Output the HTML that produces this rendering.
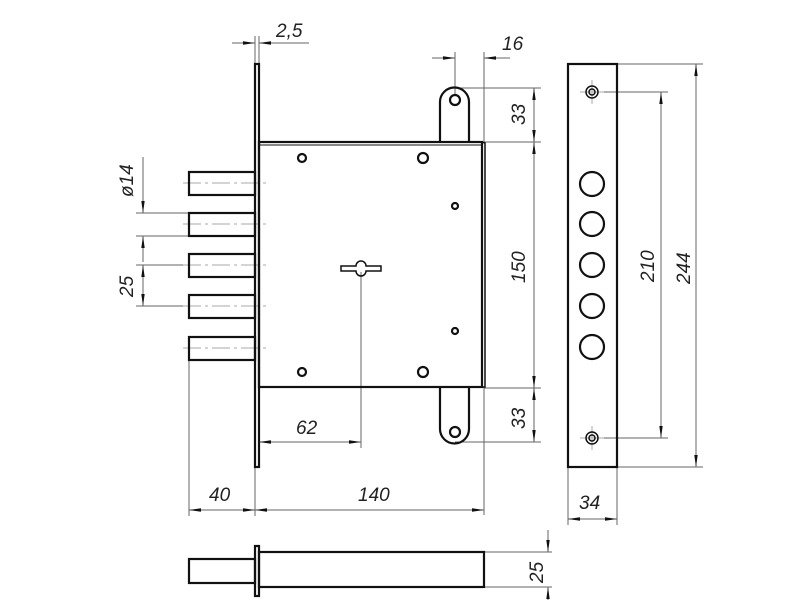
<!DOCTYPE html>
<html><head><meta charset="utf-8"><style>
html,body{margin:0;padding:0;background:#fff;}
svg{display:block;}
text{font-family:"Liberation Sans",sans-serif;font-style:italic;font-size:19px;fill:#222;}
</style></head><body>
<svg width="800" height="600" viewBox="0 0 800 600" xmlns="http://www.w3.org/2000/svg">
<defs>
<marker id="a" viewBox="0 0 12 4" refX="12" refY="2" markerWidth="12" markerHeight="4" orient="auto" markerUnits="userSpaceOnUse"><path d="M0,0.3 L12,2 L0,3.7 Z" fill="#111"/></marker>
</defs>

<g stroke="#666" stroke-width="1" fill="none">
<line x1="255" y1="36" x2="255" y2="64"/><line x1="259" y1="36" x2="259" y2="64"/>
<line x1="232" y1="43" x2="255" y2="43" marker-end="url(#a)"/>
<line x1="309" y1="43" x2="259" y2="43" marker-end="url(#a)"/>
<line x1="455" y1="52" x2="455" y2="95"/><line x1="484" y1="52" x2="484" y2="142"/>
<line x1="432" y1="58" x2="455" y2="58" marker-end="url(#a)"/>
<line x1="510" y1="58" x2="484" y2="58" marker-end="url(#a)"/>
<line x1="455" y1="88" x2="541" y2="88"/><line x1="484" y1="142" x2="541" y2="142"/>
<line x1="484" y1="388" x2="541" y2="388"/><line x1="455" y1="442" x2="541" y2="442"/>
<line x1="484" y1="387" x2="484" y2="515"/>
<line x1="534" y1="88" x2="534" y2="442"/>
<line x1="534" y1="120" x2="534" y2="88" marker-end="url(#a)"/>
<line x1="534" y1="110" x2="534" y2="142" marker-end="url(#a)"/>
<line x1="534" y1="170" x2="534" y2="142" marker-end="url(#a)"/>
<line x1="534" y1="360" x2="534" y2="388" marker-end="url(#a)"/>
<line x1="534" y1="415" x2="534" y2="388" marker-end="url(#a)"/>
<line x1="534" y1="415" x2="534" y2="442" marker-end="url(#a)"/>
<line x1="617" y1="64" x2="703" y2="64"/><line x1="617" y1="467" x2="703" y2="467"/>
<line x1="592" y1="92" x2="668" y2="92"/><line x1="592" y1="438" x2="668" y2="438"/>
<line x1="661" y1="265" x2="661" y2="92" marker-end="url(#a)"/>
<line x1="661" y1="265" x2="661" y2="438" marker-end="url(#a)"/>
<line x1="696" y1="265" x2="696" y2="64" marker-end="url(#a)"/>
<line x1="696" y1="265" x2="696" y2="467" marker-end="url(#a)"/>
<line x1="568" y1="467" x2="568" y2="525"/><line x1="617" y1="467" x2="617" y2="525"/>
<line x1="592" y1="519" x2="568" y2="519" marker-end="url(#a)"/>
<line x1="592" y1="519" x2="617" y2="519" marker-end="url(#a)"/>
<line x1="136" y1="213" x2="189" y2="213"/><line x1="136" y1="236" x2="189" y2="236"/>
<line x1="143" y1="157" x2="143" y2="213" marker-end="url(#a)"/>
<line x1="143" y1="262" x2="143" y2="236" marker-end="url(#a)"/>
<line x1="136" y1="265" x2="189" y2="265"/><line x1="136" y1="306" x2="189" y2="306"/>
<line x1="143" y1="285" x2="143" y2="265" marker-end="url(#a)"/>
<line x1="143" y1="285" x2="143" y2="306" marker-end="url(#a)"/>
<line x1="189" y1="360" x2="189" y2="516"/><line x1="255" y1="467" x2="255" y2="516"/>
<line x1="222" y1="510" x2="189" y2="510" marker-end="url(#a)"/>
<line x1="222" y1="510" x2="255" y2="510" marker-end="url(#a)"/>
<line x1="370" y1="510" x2="255" y2="510" marker-end="url(#a)"/>
<line x1="370" y1="510" x2="484" y2="510" marker-end="url(#a)"/>
<line x1="361" y1="272" x2="361" y2="448"/>
<line x1="310" y1="442" x2="259" y2="442" marker-end="url(#a)"/>
<line x1="310" y1="442" x2="361" y2="442" marker-end="url(#a)"/>
<line x1="484" y1="552" x2="552" y2="552"/><line x1="484" y1="587" x2="552" y2="587"/>
<line x1="548" y1="530" x2="548" y2="552" marker-end="url(#a)"/>
<line x1="548" y1="600" x2="548" y2="587" marker-end="url(#a)"/>
</g>

<g stroke="#aaa" stroke-width="1" stroke-dasharray="18,4,3,4">
<line x1="183" y1="183" x2="266" y2="183"/>
<line x1="183" y1="224" x2="266" y2="224"/>
<line x1="183" y1="265" x2="266" y2="265"/>
<line x1="183" y1="306" x2="266" y2="306"/>
<line x1="183" y1="348" x2="266" y2="348"/>
</g>
<g stroke="#aaa" stroke-width="1">
<line x1="580" y1="92" x2="604" y2="92"/><line x1="592" y1="80" x2="592" y2="104"/>
<line x1="580" y1="438" x2="604" y2="438"/><line x1="592" y1="426" x2="592" y2="450"/>
</g>

<g stroke="#111" stroke-width="2.2" fill="none">
<rect x="255" y="64" width="4" height="403"/>
<rect x="259" y="142" width="223" height="245"/>
<line x1="259" y1="145" x2="482" y2="145" stroke-width="1"/>
<polyline points="482,142 485,143 485,387 482,387" stroke-width="1.5"/>
<path d="M440,142 L440,102 A14.5,14.5 0 0 1 469,102 L469,142"/>
<path d="M440,387 L440,429 A14.5,14.5 0 0 0 469,429 L469,387"/>
<circle cx="455" cy="100" r="5"/><circle cx="455" cy="432" r="5"/>
<circle cx="302" cy="158" r="4"/><circle cx="423" cy="158" r="5"/><circle cx="455" cy="206" r="3"/>
<circle cx="302" cy="372" r="4"/><circle cx="423" cy="372" r="5"/><circle cx="455" cy="331" r="3"/>
<path d="M341,266 L356,266 A5,5 0 0 1 366,266 L381,266 L381,271 L366,271 A5,5 0 0 1 356,271 L341,271 Z" stroke-width="1.5"/>
<rect x="189" y="172" width="66" height="23"/>
<rect x="189" y="213" width="66" height="23"/>
<rect x="189" y="254" width="66" height="23"/>
<rect x="189" y="295" width="66" height="23"/>
<rect x="189" y="337" width="66" height="23"/>
<rect x="189" y="559" width="66" height="24"/>
<rect x="255" y="546" width="4" height="50"/>
<rect x="259" y="552" width="225" height="35"/>
<rect x="568" y="64" width="49" height="403"/>
<circle cx="592" cy="92" r="6" stroke-width="1.5"/><circle cx="592" cy="92" r="3" stroke-width="1.5"/>
<circle cx="592" cy="438" r="6" stroke-width="1.5"/><circle cx="592" cy="438" r="3" stroke-width="1.5"/>
<circle cx="592" cy="184" r="12"/><circle cx="592" cy="224" r="12"/><circle cx="592" cy="265" r="12"/>
<circle cx="592" cy="306" r="12"/><circle cx="592" cy="347" r="12"/>
</g>

<text x="276" y="37">2,5</text>
<text x="502" y="50">16</text>
<text x="209" y="501">40</text>
<text x="358" y="501">140</text>
<text x="296" y="434">62</text>
<text x="579" y="509">34</text>
<text transform="translate(133,197) rotate(-90)">ø14</text>
<text transform="translate(133,297) rotate(-90)">25</text>
<text transform="translate(525,125) rotate(-90)">33</text>
<text transform="translate(525,283) rotate(-90)">150</text>
<text transform="translate(525,429) rotate(-90)">33</text>
<text transform="translate(654,282) rotate(-90)">210</text>
<text transform="translate(690,284) rotate(-90)">244</text>
<text transform="translate(543,583) rotate(-90)">25</text>
</svg>
</body></html>
